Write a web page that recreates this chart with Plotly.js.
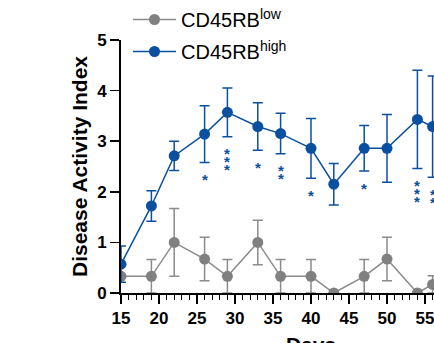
<!DOCTYPE html>
<html>
<head>
<meta charset="utf-8">
<script src="https://cdn.plot.ly/plotly-3.0.1.min.js"></script>
<style>
html,body{margin:0;padding:0;overflow:hidden;background:#fff;width:434px;height:343px;}
#chart{width:520px;height:380px;}
</style>
</head>
<body>
<div id="chart"></div>
<script>
// Data
const days = [15, 19, 22, 26, 29, 33, 36, 40, 43, 47, 50, 54, 56];
const highMean = [0.57, 1.72, 2.71, 3.14, 3.57, 3.29, 3.15, 2.86, 2.15, 2.86, 2.86, 3.43, 3.29];
const highErr  = [0.36, 0.30, 0.29, 0.56, 0.48, 0.47, 0.40, 0.59, 0.41, 0.45, 0.67, 0.97, 1.00];
const lowMean  = [0.33, 0.33, 1.00, 0.67, 0.33, 1.00, 0.33, 0.33, 0.00, 0.33, 0.67, 0.00, 0.17];
const lowErr   = [0.00, 0.33, 0.67, 0.43, 0.33, 0.44, 0.33, 0.33, 0.00, 0.33, 0.43, 0.00, 0.17];
const sigStars = [0, 0, 0, 1, 3, 1, 2, 1, 0, 1, 0, 3, 2];
const seriesNames = ['CD45RB<sup>low</sup>', 'CD45RB<sup>high</sup>'];
const xTickVals = [15, 20, 25, 30, 35, 40, 45, 50, 55, 60, 65];
const yTitle = 'Disease Activity Index';
const xTitle = 'Days';

const BLUE = '#0b4fa0';
const GRAY = '#808080';
const FONT = 'Liberation Sans, Arial, Helvetica, sans-serif';

const traceLow = {
  x: days, y: lowMean, name: seriesNames[0], type: 'scatter', mode: 'lines+markers',
  legendgroup: 'low',
  line: {color: '#8a8a8a', width: 1.5},
  marker: {color: GRAY, size: 11},
  error_y: {type: 'data', array: lowErr, visible: true, color: '#8a8a8a', thickness: 1.5, width: 5}
};
const traceHigh = {
  x: days, y: highMean, name: seriesNames[1], type: 'scatter', mode: 'lines+markers',
  legendgroup: 'high',
  line: {color: BLUE, width: 1.5},
  marker: {color: BLUE, size: 11},
  error_y: {type: 'data', array: highErr, visible: true, color: BLUE, thickness: 1.5, width: 5}
};

const annotations = [];
days.forEach((d, i) => {
  for (let j = 0; j < sigStars[i]; j++) {
    annotations.push({
      x: d, y: highMean[i] - highErr[i], xref: 'x', yref: 'y',
      text: '<b>*</b>', showarrow: false, yanchor: 'middle', xanchor: 'center',
      yshift: -(17 + j * 8),
      font: {family: FONT, size: 15, color: BLUE}
    });
  }
});
// y-axis title as rotated text placed left of the tick labels
annotations.push({
  text: '<b>' + yTitle + '</b>', textangle: -90, showarrow: false,
  xref: 'paper', yref: 'paper', x: -41.5 / 380, y: 0.5,
  xanchor: 'center', yanchor: 'middle',
  font: {family: FONT, size: 21, color: '#000'}
});

const layout = {
  width: 520, height: 380,
  margin: {l: 121, r: 19, t: 40, b: 87, pad: 0, autoexpand: false},
  paper_bgcolor: '#fff', plot_bgcolor: '#fff',
  font: {family: FONT, color: '#000'},
  showlegend: true,
  legend: {
    xref: 'container', yref: 'container',
    x: 128 / 520, y: 1 - 0 / 380, xanchor: 'left', yanchor: 'top',
    font: {family: FONT, size: 20, color: '#000'},
    tracegroupgap: 3, bgcolor: 'rgba(0,0,0,0)', itemwidth: 43
  },
  xaxis: {
    range: [15, 65], tickvals: xTickVals, ticks: 'outside', ticklen: 9, tickwidth: 1.5,
    tickcolor: '#000', showline: true, linecolor: '#000', linewidth: 1.8,
    showgrid: false, zeroline: false,
    tickfont: {family: FONT, size: 17, weight: 'bold', color: '#000'},
    minor: {dtick: 1, tick0: 15, ticks: 'outside', ticklen: 5, tickwidth: 1.2, tickcolor: '#000', showgrid: false},
    title: {text: xTitle, standoff: 10, font: {family: FONT, size: 21, weight: 'bold', color: '#000'}},
    fixedrange: true
  },
  yaxis: {
    range: [0, 5], dtick: 1, ticks: 'outside', ticklen: 9, tickwidth: 1.5,
    tickcolor: '#000', showline: true, linecolor: '#000', linewidth: 1.8,
    showgrid: false, zeroline: false,
    tickfont: {family: FONT, size: 17, weight: 'bold', color: '#000'},
    fixedrange: true
  },
  annotations: annotations
};

Plotly.newPlot('chart', [traceLow, traceHigh], layout, {displayModeBar: false, staticPlot: true});
</script>
</body>
</html>
